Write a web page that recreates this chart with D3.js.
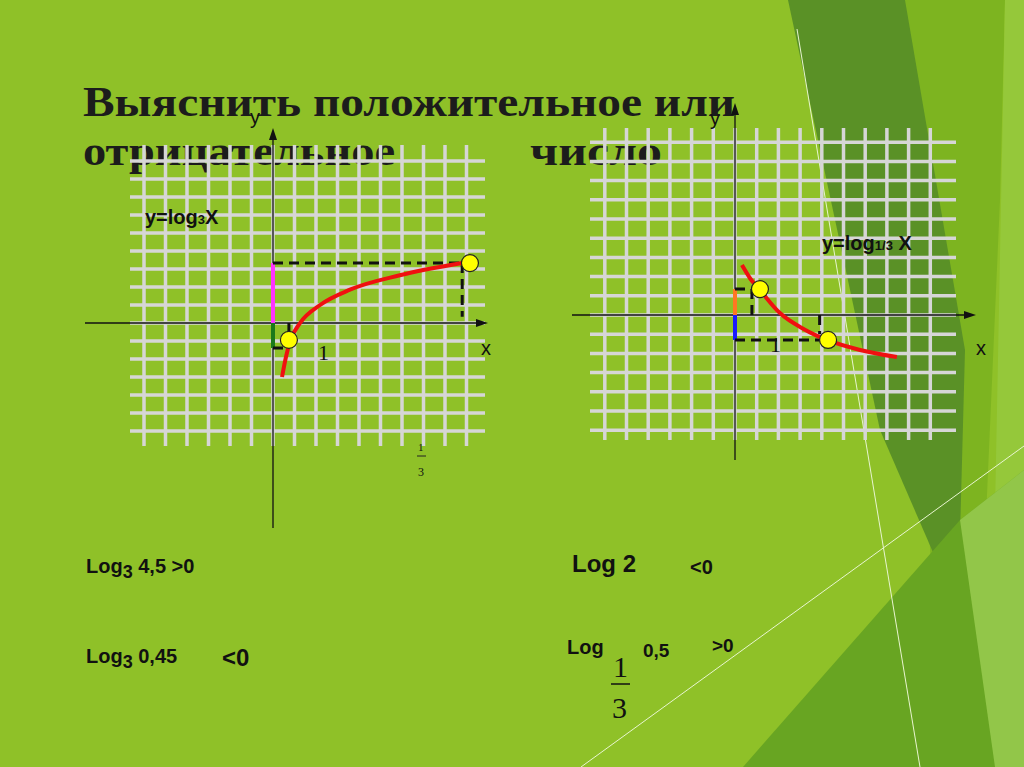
<!DOCTYPE html>
<html><head><meta charset="utf-8">
<script src="https://cdn.jsdelivr.net/npm/d3@7"></script>
<style>html,body{margin:0;padding:0;overflow:hidden}</style>
</head><body>
<script>
// ---- data (grid units) ----
const gridIdx = d3.range(-6, 10);
const leftCurve = [[0.42,-3.0],[0.6,-1.9],[0.8,-1.0],[1.26,0],[2.19,1.0],[3.58,1.85],[5.9,2.65],[8.8,3.33]];
const leftPoints = [[0.74,-0.94],[9.16,3.33]];
const rightCurve = [[0.32,2.6],[0.7,1.9],[1.15,1.3],[2.07,0.1],[3.2,-0.75],[4.24,-1.3],[5.76,-1.82],[7.46,-2.19]];
const rightPoints = [[1.15,1.35],[4.29,-1.3]];
const leftDash = [[[0,3.33],[8.8,3.33]],[[8.8,3.33],[8.8,0.35]],[[0.74,0],[0.74,-0.94]],[[0,-1.39],[0.74,-1.39]]];
const rightDash = [[[0,1.35],[1.15,1.35]],[[0.78,1.35],[0.78,0]],[[0,-1.3],[4.29,-1.3]],[[3.9,0],[3.9,-1.0]]];
const leftSegs = [{a:0,b:3.33,c:"#ff33ff"},{a:0,b:-1.39,c:"#1a7a1a"}];
const rightSegs = [{a:0,b:1.35,c:"#ff7722"},{a:0,b:-1.3,c:"#1a1aff"}];

const W=1024,H=767;
const svg=d3.select("body").append("svg").attr("width",W).attr("height",H);
svg.append("rect").attr("width",W).attr("height",H).attr("fill","#8fc128");
const poly=(pts,fill,op)=>svg.append("polygon").attr("points",pts.map(p=>p.join(",")).join(" ")).attr("fill",fill).attr("opacity",op||1);
poly([[905,0],[1005,0],[1000,200],[975,767],[940,767]],"#7db420");
poly([[788,0],[905,0],[965,350],[958,610],[880,430]],"#5a9126");
poly([[1005,0],[1024,0],[1024,767],[990,767]],"#95c83a");
poly([[743,767],[960,520],[1024,470],[1024,767]],"#68a522");
poly([[960,520],[1024,470],[1024,767],[995,767]],"#a4d45a",0.7);
svg.append("line").attr("x1",797).attr("y1",29).attr("x2",920).attr("y2",767).attr("stroke","#e8f5d0").attr("stroke-width",1);
svg.append("line").attr("x1",581).attr("y1",767).attr("x2",1024).attr("y2",446).attr("stroke","#e8f5d0").attr("stroke-width",1);

const title=svg.append("g").attr("font-family","Liberation Serif, serif").attr("font-weight","bold").attr("font-size",42).attr("fill","#1c1c1c");
title.append("text").attr("x",83).attr("y",116).attr("textLength",652).attr("lengthAdjust","spacingAndGlyphs").text("Выяснить положительное или");
title.append("text").attr("x",83).attr("y",165).attr("textLength",312).attr("lengthAdjust","spacingAndGlyphs").text("отрицательное");
title.append("text").attr("x",530).attr("y",165).attr("textLength",132).attr("lengthAdjust","spacingAndGlyphs").text("число");

function graph(o){
  const x=d3.scaleLinear().domain([0,1]).range([o.ox,o.ox+o.cx]);
  const y=d3.scaleLinear().domain([0,1]).range([o.oy,o.oy-o.cy]);
  const g=svg.append("g");
  g.selectAll(".v").data(gridIdx).join("line").attr("x1",d=>x(d)).attr("x2",d=>x(d))
    .attr("y1",o.vy[0]).attr("y2",o.vy[1]).attr("stroke","#d6d6d6").attr("stroke-width",3.5);
  g.selectAll(".h").data(gridIdx).join("line").attr("y1",d=>y(d)).attr("y2",d=>y(d))
    .attr("x1",o.hx[0]).attr("x2",o.hx[1]).attr("stroke","#d6d6d6").attr("stroke-width",3.5);
  g.append("line").attr("x1",o.ax[0]).attr("x2",o.ax[1]-8).attr("y1",o.oy).attr("y2",o.oy).attr("stroke","#111").attr("stroke-width",1.3);
  g.append("path").attr("d",`M${o.ax[1]},${o.oy}l-12,-4v8z`).attr("fill","#111");
  g.append("line").attr("x1",o.ox).attr("x2",o.ox).attr("y1",o.ay[0]).attr("y2",o.ay[1]+8).attr("stroke","#111").attr("stroke-width",1.3);
  g.append("path").attr("d",`M${o.ox},${o.ay[1]}l-4,12h8z`).attr("fill","#111");
  g.selectAll(".s").data(o.segs).join("line").attr("x1",o.ox).attr("x2",o.ox).attr("y1",d=>y(d.a)).attr("y2",d=>y(d.b)).attr("stroke",d=>d.c).attr("stroke-width",4);
  g.selectAll(".d").data(o.dash).join("line").attr("x1",d=>x(d[0][0])).attr("y1",d=>y(d[0][1])).attr("x2",d=>x(d[1][0])).attr("y2",d=>y(d[1][1]))
    .attr("stroke","#111").attr("stroke-width",3).attr("stroke-dasharray","10,6");
  g.append("path").attr("d",d3.line().x(d=>x(d[0])).y(d=>y(d[1])).curve(d3.curveMonotoneX)(o.curve))
    .attr("fill","none").attr("stroke","#f01010").attr("stroke-width",4);
  g.selectAll(".p").data(o.pts).join("circle").attr("cx",d=>x(d[0])).attr("cy",d=>y(d[1])).attr("r",8.5)
    .attr("fill","#ffff00").attr("stroke","#222").attr("stroke-width",1.2);
  return g;
}
graph({ox:273,oy:323,cx:21.5,cy:18,vy:[145,446],hx:[130,485],ax:[85,488],ay:[528,128],segs:leftSegs,dash:leftDash,curve:leftCurve,pts:leftPoints});
graph({ox:735,oy:315,cx:21.7,cy:19.2,vy:[128,440],hx:[590,956],ax:[572,976],ay:[460,103],segs:rightSegs,dash:rightDash,curve:rightCurve,pts:rightPoints});

const sans="Liberation Sans, Arial, sans-serif", serif="Liberation Serif, serif";
const t=(x,y,s,size,fam,w)=>svg.append("text").attr("x",x).attr("y",y).attr("font-size",size).attr("font-family",fam||sans).attr("font-weight",w||"bold").attr("fill","#111").text(s);
t(250,124,"y",20,sans,"normal"); t(481,355,"x",20,sans,"normal");
t(710,125,"y",20,sans,"normal"); t(976,355,"x",20,sans,"normal");
t(318,360,"1",22,serif,"normal"); t(770,352,"1",22,serif,"normal");
const l1=t(145,224,"y=log",20); l1.append("tspan").attr("font-size",13).text("3"); l1.append("tspan").text("X");
const l2=t(822,250,"y=log",20); l2.append("tspan").attr("font-size",13).text("1/3"); l2.append("tspan").text(" X");
t(418,451,"1",11,serif,"normal"); svg.append("line").attr("x1",417).attr("x2",426).attr("y1",456).attr("y2",456).attr("stroke","#222");
t(418,476,"3",12,serif,"normal");
const b1=t(86,573,"Log",20); b1.append("tspan").attr("dy",5).attr("font-size",18).text("3"); b1.append("tspan").attr("dy",-5).text(" 4,5 >0");
const b2=t(86,663,"Log",20); b2.append("tspan").attr("dy",5).attr("font-size",18).text("3"); b2.append("tspan").attr("dy",-5).text(" 0,45");
t(222,666,"<0",24);
t(572,572,"Log   2",24); t(690,574,"<0",20);
t(567,654,"Log",20); t(643,657,"0,5",19); t(712,652,">0",19);
t(613,677,"1",30,serif,"normal"); svg.append("line").attr("x1",611).attr("x2",630).attr("y1",684).attr("y2",684).attr("stroke","#111").attr("stroke-width",1.5);
t(612,718,"3",30,serif,"normal");
</script>
</body></html>
